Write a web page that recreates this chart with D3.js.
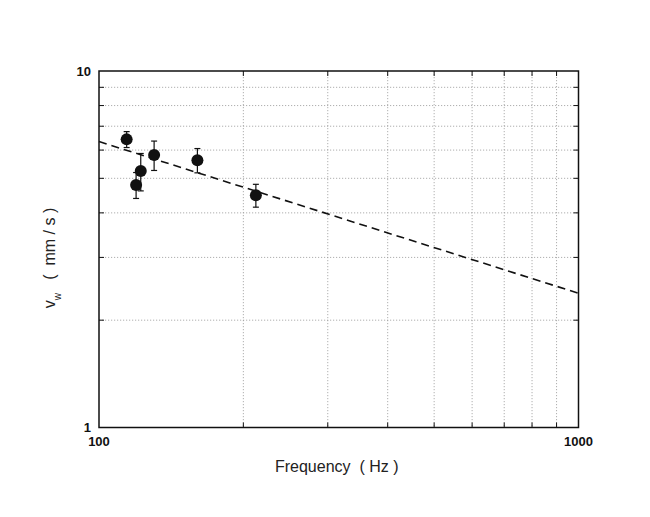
<!DOCTYPE html>
<html>
<head>
<meta charset="utf-8">
<script src="https://cdn.jsdelivr.net/npm/d3@7"></script>
<style>
  body { margin: 0; background: #fff; }
  text { font-family: "Liberation Sans", Arial, sans-serif; white-space: pre; }
  .grid line { stroke: #9a9a9a; stroke-width: 0.8; stroke-dasharray: 1.2 1.8; }
  .tick-lbl { font-weight: bold; font-size: 13px; fill: #111; }
</style>
</head>
<body>
<script>
// measured points
const freq = [114.2, 119.5, 122.2, 130.3, 160.4, 212.4]
const speed = [6.43, 4.79, 5.24, 5.81, 5.62, 4.48]
const speedErr = [0.33, 0.40, 0.63, 0.55, 0.44, 0.33]

// power-law fit (straight line on log-log)
const fitFreq = [100, 1000]
const fitSpeed = [6.34, 2.38]

const xTickLabels = [100, 1000]
const yTickLabels = [1, 10]
const xGrid = [200, 300, 400, 500, 600, 700, 800, 900]
const yGrid = [2, 3, 4, 5, 6, 7, 8, 9]

const width = 650, height = 517
const plotL = 99, plotR = 578.5, plotT = 71, plotB = 427.5

const svg = d3.select("body").append("svg")
    .attr("width", width)
    .attr("height", height)

const x = d3.scaleLog().domain([100, 1000]).range([plotL, plotR])
const y = d3.scaleLog().domain([1, 10]).range([plotB, plotT])

// grid
const grid = svg.append("g").attr("class", "grid")
grid.selectAll("line.gx").data(xGrid).enter().append("line")
    .attr("x1", d => x(d)).attr("x2", d => x(d))
    .attr("y1", plotT).attr("y2", plotB)
grid.selectAll("line.gy").data(yGrid).enter().append("line")
    .attr("x1", plotL).attr("x2", plotR)
    .attr("y1", d => y(d)).attr("y2", d => y(d))

// inward ticks on all four sides
const tickLen = 5
const ticks = svg.append("g").attr("stroke", "#111").attr("stroke-width", 1)
xGrid.forEach(d => {
    ticks.append("line").attr("x1", x(d)).attr("x2", x(d)).attr("y1", plotB).attr("y2", plotB - tickLen)
    ticks.append("line").attr("x1", x(d)).attr("x2", x(d)).attr("y1", plotT).attr("y2", plotT + tickLen)
})
yGrid.forEach(d => {
    ticks.append("line").attr("x1", plotL).attr("x2", plotL + tickLen).attr("y1", y(d)).attr("y2", y(d))
    ticks.append("line").attr("x1", plotR).attr("x2", plotR - tickLen).attr("y1", y(d)).attr("y2", y(d))
})

// frame
svg.append("rect")
    .attr("x", plotL).attr("y", plotT)
    .attr("width", plotR - plotL).attr("height", plotB - plotT)
    .attr("fill", "none").attr("stroke", "#111").attr("stroke-width", 1.5)

// tick labels
svg.selectAll("text.xl").data(xTickLabels).enter().append("text")
    .attr("class", "tick-lbl")
    .attr("x", d => x(d)).attr("y", plotB + 18)
    .attr("text-anchor", "middle")
    .text(d => d)
svg.selectAll("text.yl").data(yTickLabels).enter().append("text")
    .attr("class", "tick-lbl")
    .attr("x", plotL - 8).attr("y", d => y(d) + 4.5)
    .attr("text-anchor", "end")
    .text(d => d)

// fit line
const fitData = fitFreq.map((f, i) => ({ f: f, v: fitSpeed[i] }))
svg.append("path")
    .datum(fitData)
    .attr("d", d3.line().x(d => x(d.f)).y(d => y(d.v)))
    .attr("fill", "none")
    .attr("stroke", "#111")
    .attr("stroke-width", 1.6)
    .attr("stroke-dasharray", "8 5")

// points with error bars
const pts = freq.map((f, i) => ({ f: f, v: speed[i], e: speedErr[i] }))
const cap = 3
const eb = svg.append("g").attr("stroke", "#111").attr("stroke-width", 1.2)
pts.forEach(p => {
    const cx = x(p.f)
    eb.append("line").attr("x1", cx).attr("x2", cx).attr("y1", y(p.v + p.e)).attr("y2", y(p.v - p.e))
    eb.append("line").attr("x1", cx - cap).attr("x2", cx + cap).attr("y1", y(p.v + p.e)).attr("y2", y(p.v + p.e))
    eb.append("line").attr("x1", cx - cap).attr("x2", cx + cap).attr("y1", y(p.v - p.e)).attr("y2", y(p.v - p.e))
})
svg.selectAll("circle.pt").data(pts).enter().append("circle")
    .attr("cx", d => x(d.f)).attr("cy", d => y(d.v))
    .attr("r", 6)
    .attr("fill", "#111")

// axis titles
svg.append("text")
    .attr("x", (plotL + plotR) / 2 - 2).attr("y", 472)
    .attr("text-anchor", "middle")
    .attr("font-size", 16)
    .attr("fill", "#222")
    .text("Frequency  ( Hz )")

const yt = svg.append("text")
    .attr("transform", "translate(55,258) rotate(-90)")
    .attr("text-anchor", "middle")
    .attr("font-size", 16)
    .attr("fill", "#222")
yt.append("tspan").text("v")
yt.append("tspan").attr("font-size", 10).attr("dy", 6).text("w")
yt.append("tspan").attr("dy", -6).text("   (  mm / s )")
</script>
</body>
</html>
